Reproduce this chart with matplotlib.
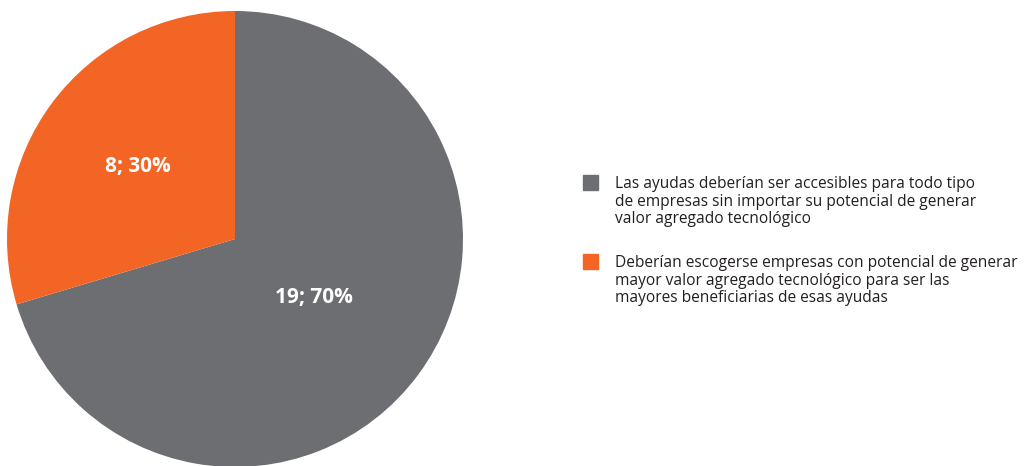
import numpy as np
import matplotlib.pyplot as plt

counts = [19, 8]
labels = [
    "Las ayudas deberían ser accesibles para todo tipo\nde empresas sin importar su potencial de generar\nvalor agregado tecnológico",
    "Deberían escogerse empresas con potencial de generar\nmayor valor agregado tecnológico para ser las\nmayores beneficiarias de esas ayudas",
]
colors = ["#6d6e71", "#f26524"]

plt.rcParams['font.family'] = ['Open Sans', 'DejaVu Sans']

fig = plt.figure(figsize=(10.36, 4.66), dpi=100)
ax = fig.add_axes([7 / 1036, -1 / 466, 456 / 1036, 456 / 466])

wedges, _ = ax.pie(counts, colors=colors, startangle=90, counterclock=False,
                   radius=1.0, wedgeprops=dict(linewidth=0))
ax.set_xlim(-1, 1)
ax.set_ylim(-1, 1)
ax.set_aspect('equal')

total = sum(counts)
label_r = [0.43, 0.53]
for w, n, r in zip(wedges, counts, label_r):
    mid = np.deg2rad((w.theta1 + w.theta2) / 2)
    ax.text(r * np.cos(mid), r * np.sin(mid), f"{n}; {round(100 * n / total)}%",
            ha='center', va='center', color='white', fontsize=15, fontweight='bold')

# legend drawn by hand: square + multi-line text
leg_y = [183, 262]
for y, c, txt in zip(leg_y, colors, labels):
    fig.patches.append(plt.Rectangle((583 / 1036, 1 - (y + 7) / 466), 15 / 1036, 15 / 466,
                                     transform=fig.transFigure, color=c))
    fig.text(615 / 1036, 1 - (y - 7) / 466, txt, ha='left', va='top',
             fontsize=11.2, color='#231f20', linespacing=1.13)

fig.savefig('out.png', dpi=100)
